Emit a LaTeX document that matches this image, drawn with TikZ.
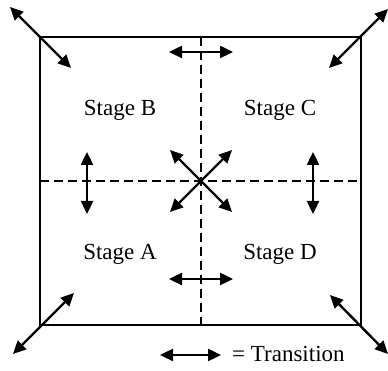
\documentclass[tikz,border=0pt]{standalone}
\usepackage{fontspec}
\setmainfont{Liberation Serif}
\usetikzlibrary{arrows.meta}
\begin{document}
\begin{tikzpicture}[x=1pt,y=1pt,
  frame/.style={line width=2.5pt},
  divider/.style={line width=2.3pt,dash pattern=on 9pt off 5pt},
  trans/.style={line width=2.4pt,{Triangle[length=13pt,width=12pt]}-{Triangle[length=13pt,width=12pt]}},
  lbl/.style={font=\fontsize{23}{27}\selectfont,inner sep=0pt}]
\useasboundingbox (0,0) rectangle (388,371);
% outer square and its corners
\coordinate (tl) at (40,334);
\coordinate (tr) at (361,334);
\coordinate (bl) at (40,46);
\coordinate (br) at (361,46);
\coordinate (c) at (201,190);
\coordinate (top) at (201,334);
\coordinate (bot) at (201,46);
\coordinate (lft) at (40,190);
\coordinate (rgt) at (361,190);
% quadrant dividers
\draw[divider] (top) -- (bot);
\draw[divider] (lft) -- (rgt);
\draw[frame] (bl) rectangle (tr);
% stage labels
\node[lbl] (sb) at (120,261) {Stage B};
\node[lbl] (sc) at (280,261) {Stage C};
\node[lbl] (sa) at (120,117) {Stage A};
\node[lbl] (sd) at (280,117) {Stage D};
% corner transitions
\coordinate (tlo) at (10,364);
\coordinate (tli) at (71,303);
\coordinate (tro) at (388,362);
\coordinate (tri) at (329,303);
\coordinate (blo) at (13,17);
\coordinate (bli) at (74,78);
\coordinate (bro) at (388,17);
\coordinate (bri) at (330,76);
\draw[trans] (tlo) -- (tli);
\draw[trans] (tro) -- (tri);
\draw[trans] (blo) -- (bli);
\draw[trans] (bro) -- (bri);
% transitions between neighbouring stages
\coordinate (h1a) at (169,319);
\coordinate (h1b) at (233,319);
\coordinate (h2a) at (169,92);
\coordinate (h2b) at (233,92);
\coordinate (v1a) at (87,219);
\coordinate (v1b) at (87,157);
\coordinate (v2a) at (313,219);
\coordinate (v2b) at (313,157);
\draw[trans] (h1a) -- (h1b);
\draw[trans] (h2a) -- (h2b);
\draw[trans] (v1a) -- (v1b);
\draw[trans] (v2a) -- (v2b);
% diagonal transitions through the centre
\coordinate (d1a) at (170,221);
\coordinate (d1b) at (232,159);
\coordinate (d2a) at (232,221);
\coordinate (d2b) at (170,159);
\draw[trans] (d1a) -- (d1b);
\draw[trans] (d2a) -- (d2b);
% legend
\coordinate (la) at (160,16);
\coordinate (lb) at (221,16);
\draw[trans] (la) -- (lb);
\node[lbl,anchor=west] (lt) at (232,17) {= Transition};
\end{tikzpicture}
\end{document}
